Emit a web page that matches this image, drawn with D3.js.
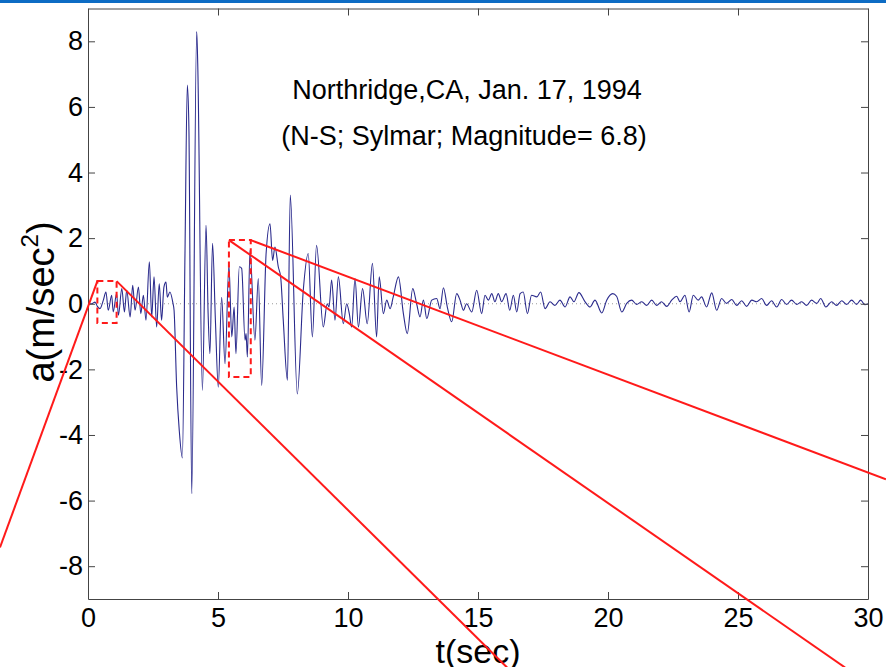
<!DOCTYPE html>
<html>
<head>
<meta charset="utf-8">
<script src="https://cdn.jsdelivr.net/npm/d3@7/dist/d3.min.js"></script>
<style>
  html, body { margin: 0; padding: 0; background: #fff; }
  svg { display: block; }
  text { font-family: "Liberation Sans", Arial, Helvetica, sans-serif; fill: #000; }
</style>
</head>
<body>
<svg id="chart" width="886" height="667"></svg>
<script>
// ---- data ----
const times = [
  0.00, 0.14, 0.27, 0.36, 0.46, 0.59, 0.69, 0.78, 0.91, 0.97, 1.10, 1.17, 1.30, 1.40, 1.49, 1.62,
  1.72, 1.81, 1.94, 2.03, 2.13, 2.23, 2.36, 2.45, 2.54, 2.64, 2.74, 2.83, 2.92, 3.00, 3.05, 3.15,
  3.26, 3.31, 3.41, 3.51, 3.63, 3.73, 3.82, 3.88, 3.99, 4.18, 4.22, 4.40, 4.54, 4.62, 4.69, 4.79,
  4.90, 5.01, 5.14, 5.27, 5.42, 5.53, 5.62, 5.69, 5.82, 5.91, 6.04, 6.08, 6.13, 6.23, 6.42, 6.55,
  6.68, 6.85, 7.00, 7.10, 7.19, 7.32, 7.41, 7.51, 7.67, 7.78, 8.05, 8.28, 8.47, 8.63, 8.79, 9.05,
  9.20, 9.27, 9.37, 9.50, 9.63, 9.82, 9.95, 10.05, 10.14, 10.27, 10.40, 10.56, 10.74, 10.94, 11.10, 11.20,
  11.36, 11.49, 11.62, 11.74, 11.94, 12.13, 12.28, 12.49, 12.64, 12.77, 12.90, 13.03, 13.22, 13.41, 13.54, 13.67,
  13.82, 13.99, 14.18, 14.31, 14.44, 14.56, 14.76, 14.95, 15.14, 15.27, 15.40, 15.53, 15.65, 15.78, 15.91, 16.08,
  16.22, 16.36, 16.49, 16.62, 16.74, 16.90, 17.06, 17.26, 17.41, 17.58, 17.77, 17.96, 18.15, 18.35, 18.54, 18.69,
  18.88, 19.12, 19.31, 19.50, 19.76, 19.95, 20.18, 20.33, 20.53, 20.72, 20.91, 21.10, 21.30, 21.49, 21.68, 21.87,
  22.06, 22.26, 22.45, 22.64, 22.77, 22.96, 23.12, 23.28, 23.47, 23.60, 23.79, 23.99, 24.18, 24.37, 24.56, 24.76,
  24.95, 25.14, 25.33, 25.53, 25.72, 25.91, 26.10, 26.29, 26.49, 26.68, 26.87, 27.06, 27.26, 27.45, 27.64, 27.83,
  28.03, 28.18, 28.38, 28.60, 28.79, 28.99, 29.18, 29.37, 29.56, 29.72, 29.88, 30.00
];
const accel = [
  0.00, 0.00, 0.05, -0.08, -0.15, 0.11, 0.36, -0.20, 0.26, -0.25, 0.31, -0.35, 0.46, -0.25, 0.41, -0.40,
  0.56, -0.20, 0.51, -0.30, 0.26, -0.50, 1.28, -0.40, 0.82, -0.71, 0.61, -0.50, 0.51, 0.66, 0.20, 0.36,
  0.05, -0.20, -2.54, -3.86, -4.70, 1.53, 6.67, 5.40, -5.79, 8.30, 7.33, -2.64, 2.39, -0.30, -1.52, 1.84,
  -0.50, -2.54, 0.20, -1.83, 1.18, -1.01, -0.10, -1.52, 1.13, 1.08, -1.11, -0.91, -1.62, 1.63, -1.11, 0.77,
  -2.49, 1.53, 2.44, 1.32, 1.73, 1.12, 0.82, -0.50, -2.33, 3.31, -2.75, 0.41, 1.53, -1.01, 1.78, -0.71,
  0.00, -0.10, 0.72, -0.50, 0.82, -0.61, 0.00, -0.30, -0.71, 0.77, -0.71, 0.46, -0.61, 1.23, -1.01, 0.82,
  -0.30, 0.11, -0.15, 0.21, 0.82, -0.30, -0.91, 0.46, 0.00, -0.40, 0.11, -0.45, 0.11, 0.16, -0.15, 0.49,
  -0.10, -0.55, 0.31, 0.11, -0.20, 0.00, -0.25, 0.41, -0.30, 0.26, 0.11, 0.31, 0.06, 0.31, 0.06, 0.31,
  -0.20, 0.26, -0.25, 0.31, 0.36, -0.30, 0.26, 0.21, 0.36, -0.15, 0.06, -0.05, 0.11, -0.10, 0.21, 0.06,
  0.34, 0.06, -0.10, 0.11, -0.28, 0.11, 0.31, 0.23, -0.25, 0.01, 0.11, -0.02, 0.06, -0.05, 0.11, -0.05,
  0.06, -0.08, 0.11, 0.23, 0.06, 0.26, -0.25, 0.26, 0.11, 0.21, -0.10, 0.33, -0.20, 0.16, 0.01, 0.13,
  -0.05, 0.09, -0.08, 0.11, 0.06, 0.16, -0.05, 0.09, -0.10, 0.13, -0.02, 0.11, -0.02, 0.06, -0.05, 0.11,
  0.01, 0.16, -0.10, 0.06, -0.05, 0.09, -0.02, 0.11, -0.02, 0.11, -0.03, 0.00
];
const xTicks = [0, 5, 10, 15, 20, 25, 30];
const yTicks = [-8, -6, -4, -2, 0, 2, 4, 6, 8];
const titleLines = ["Northridge,CA, Jan. 17, 1994", "(N-S; Sylmar; Magnitude= 6.8)"];
// zoom boxes [t0, t1, aTop, aBottom]
const zoomBoxes = [[0.36, 1.10, 0.69, -0.59], [5.42, 6.26, 1.94, -2.23]];
// callout lines from box corners, [tStart, aStart, tEnd, aEnd]
const callouts = [
  [0.36, 0.69, -3.385, -7.43],
  [1.10, 0.69, 16.12, -11.09],
  [5.42, 1.94, 29.12, -11.09],
  [6.26, 1.94, 30.69, -5.35]
];

// ---- drawing ----
const svg = d3.select("#chart");
const W = 886, H = 667;
const x = d3.scaleLinear().domain([0, 30]).range([88, 868]);
const y = d3.scaleLinear().domain([-9, 9]).range([599, 8.5]);

svg.append("rect").attr("x", 0).attr("y", 0).attr("width", W).attr("height", 3).attr("fill", "#0d6cc4");

// zero dotted line
svg.append("line")
  .attr("x1", x(0)).attr("x2", x(30)).attr("y1", y(0)).attr("y2", y(0))
  .attr("stroke", "#9a9a9a").attr("stroke-width", 1).attr("stroke-dasharray", "1,3");

// signal
const pts = times.map((t, i) => [t, accel[i]]);
const line = d3.line().x(d => x(d[0])).y(d => y(d[1])).curve(d3.curveMonotoneX);
svg.append("path").datum(pts)
  .attr("d", line).attr("fill", "none")
  .attr("stroke", "#2a2a8c").attr("stroke-width", 1.1).attr("stroke-linejoin", "round");

// axes (MATLAB-style box, inward ticks)
const fmt = d => String(d);
const axisStyle = g => {
  g.select(".domain").attr("stroke", "#444");
  g.selectAll(".tick line").attr("stroke", "#444");
  g.selectAll(".tick text").attr("font-size", 27).attr("fill", "#000")
    .attr("font-family", '"Liberation Sans", Arial, sans-serif');
};
svg.append("g").attr("transform", `translate(0,${y(-9)})`)
  .call(d3.axisBottom(x).tickValues(xTicks).tickFormat(fmt).tickSizeInner(-7).tickSizeOuter(0).tickPadding(9))
  .call(axisStyle);
svg.append("g").attr("transform", `translate(0,${y(9)})`)
  .call(d3.axisTop(x).tickValues(xTicks).tickFormat("").tickSizeInner(-7).tickSizeOuter(0))
  .call(axisStyle);
svg.append("g").attr("transform", `translate(${x(0)},0)`)
  .call(d3.axisLeft(y).tickValues(yTicks).tickFormat(fmt).tickSizeInner(-7).tickSizeOuter(0).tickPadding(5))
  .call(axisStyle);
svg.append("g").attr("transform", `translate(${x(30)},0)`)
  .call(d3.axisRight(y).tickValues(yTicks).tickFormat("").tickSizeInner(-7).tickSizeOuter(0))
  .call(axisStyle);

// titles
svg.append("text").attr("x", 467).attr("y", 99).attr("text-anchor", "middle")
  .attr("font-size", 27).text(titleLines[0]);
svg.append("text").attr("x", 464).attr("y", 145).attr("text-anchor", "middle")
  .attr("font-size", 27).text(titleLines[1]);

// axis labels
svg.append("text").attr("x", 478).attr("y", 663).attr("text-anchor", "middle")
  .attr("font-size", 34).text("t(sec)");
const yl = svg.append("text").attr("transform", "translate(54,302) rotate(-90)")
  .attr("text-anchor", "middle").attr("font-size", 38);
yl.append("tspan").text("a(m/sec");
yl.append("tspan").attr("font-size", 24).attr("dy", -16).text("2");
yl.append("tspan").attr("dy", 16).text(")");

// zoom boxes and callouts (red)
svg.selectAll(".zbox").data(zoomBoxes).enter().append("rect")
  .attr("x", d => x(d[0])).attr("y", d => y(d[2]))
  .attr("width", d => x(d[1]) - x(d[0])).attr("height", d => y(d[3]) - y(d[2]))
  .attr("fill", "none").attr("stroke", "#ff1a1a").attr("stroke-width", 2).attr("stroke-dasharray", "6,4");
svg.selectAll(".callout").data(callouts).enter().append("line")
  .attr("x1", d => x(d[0])).attr("y1", d => y(d[1]))
  .attr("x2", d => x(d[2])).attr("y2", d => y(d[3]))
  .attr("stroke", "#ff1a1a").attr("stroke-width", 2);
</script>
</body>
</html>
